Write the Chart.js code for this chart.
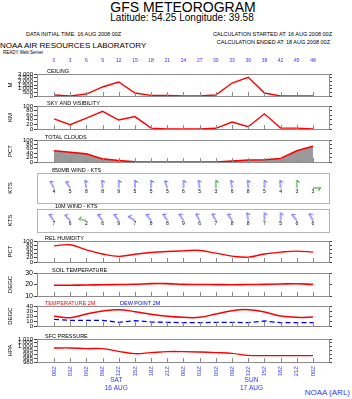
<!DOCTYPE html>
<html>
<head>
<meta charset="utf-8">
<script src="https://cdn.jsdelivr.net/npm/chart.js@4.4.0/dist/chart.umd.min.js"></script>
<style>
  body { margin: 0; background: #fff; width: 352px; height: 399px; overflow: hidden; position: relative;
         font-family: "Liberation Sans", Arial, Helvetica, sans-serif; }
  canvas { position: absolute; left: 0; }
  .t { position: absolute; white-space: nowrap; color: #000; line-height: 1; }
</style>
</head>
<body>
<div class="t" style="left:0;width:366px;text-align:center;top:0;font-size:14px">GFS METEOROGRAM</div>
<div class="t" style="left:0;width:364px;text-align:center;top:13px;font-size:10px">Latitude: 54.25 Longitude: 39.58</div>
<div class="t" style="left:26px;top:32px;font-size:5.5px">DATA INITIAL TIME: 16 AUG 2008 00Z</div>
<div class="t" style="right:20px;top:32px;font-size:5.5px">CALCULATION STARTED AT: 16 AUG 2008 00Z</div>
<div class="t" style="left:0;top:42px;font-size:8px">NOAA AIR RESOURCES LABORATORY</div>
<div class="t" style="right:22px;top:40px;font-size:5.5px">CALCULATION ENDED AT: 18 AUG 2008 00Z</div>
<div class="t" style="left:3px;top:51px;font-size:4.5px">READY Web Server</div>
<div class="t" style="right:2px;top:389px;font-size:8px;color:#3333ff">NOAA (ARL)</div>

<script>
// forecast hours on top, times on the bottom
const hours = ['0', '3', '6', '9', '12', '15', '18', '21', '24', '27', '30', '33', '36', '39', '42', '45', '48'];
const times = ['00Z', '03Z', '06Z', '09Z', '12Z', '15Z', '18Z', '21Z', '00Z', '03Z', '06Z', '09Z', '12Z', '15Z', '18Z', '21Z', '00Z'];
const dayNames = ['SAT', 'SUN'];
const dayDates = ['16 AUG', '17 AUG'];
const dayAt = [3.85, 12.2];

// series
const ceiling = [140, 0, 270, 1230, 1910, 410, 90, 90, 0, 0, 140, 1770, 2550, 410, 0, 0, 0];
const sky = [44, 19, 47, 77, 39, 54, 4, 0, 0, 0, 3, 30, 10, 66, 4, 4, 0];
const clouds = [51, 44, 37, 14, 7, 1, 0, 0, 0, 0, 0, 4, 9, 10, 16, 51, 72];
const wind850Dir = [-30, -35, -10, -5, 0, 0, 0, -20, 0, -10, 0, -10, -5, 0, -5, 0, 90];
const wind850Spd = [4, 5, 8, 8, 9, 5, 5, 5, 6, 5, 3, 6, 8, 5, 4, 3, 3];
const wind10Dir = [-40, -45, -80, -40, -40, -60, -40, -35, -35, -30, -30, -35, -10, 0, 0, -40, -30];
const wind10Spd = [7, 6, 2, 6, 9, 7, 8, 8, 9, 6, 7, 8, 8, 7, 5, 6, 6];
const rh = [77, 82, 58, 38, 27, 37, 45, 50, 53, 55, 42, 28, 23, 38, 47, 52, 47];
const soilT = [19.4, 19.4, 19.5, 19.8, 20.0, 20.2, 20.8, 20.8, 20.1, 20.0, 19.9, 19.8, 20.0, 20.1, 20.4, 20.6, 20.1];
const temp2m = [19.3, 16.7, 24, 30, 32.7, 28.7, 23.3, 19.3, 17.3, 17.3, 24, 30.7, 32.7, 28, 20, 17.3, 18];
const dew2m = [13.3, 11.3, 11.3, 11.3, 7.3, 10.7, 8, 7.3, 6.7, 6.7, 7.3, 7.3, 6.7, 10, 6.7, 6.7, 6.7];
const pres = [998.3, 998.3, 997.4, 997.4, 993.9, 990.9, 992.2, 993.5, 993.5, 993.0, 992.2, 991.3, 988.7, 988.3, 988.3, 988.3, 988.3];

const FONT = '"Liberation Sans", Arial, Helvetica, sans-serif';
const BLUE = '#3333ff';
Chart.defaults.font.family = FONT;
Chart.defaults.animation = false;
Chart.defaults.events = [];
Chart.defaults.plugins.legend.display = false;
Chart.defaults.plugins.tooltip.enabled = false;

const XMIN = -1.05, XMAX = 16.99;
const pts = arr => arr.map((v, i) => ({ x: i, y: v }));

// little wind barb drawn once per colour
const barbCache = {};
function barb(color) {
  if (barbCache[color]) return barbCache[color];
  const c = document.createElement('canvas');
  c.width = 18; c.height = 18;
  const g = c.getContext('2d');
  g.strokeStyle = color;
  g.lineWidth = 1;
  g.beginPath();
  g.moveTo(9, 9); g.lineTo(9, 1);
  g.moveTo(9, 1.5); g.lineTo(12, 3.5);
  g.stroke();
  barbCache[color] = c;
  return c;
}

function decor(o) {
  return {
    id: 'decor',
    afterDatasetsDraw(chart) {
      const { ctx, chartArea: a, scales } = chart;
      ctx.save();
      // box
      ctx.strokeStyle = o.boxColor || '#8c8c8c';
      ctx.lineWidth = 1;
      ctx.strokeRect(Math.round(a.left) + 0.5, Math.round(a.top) + 0.5,
        Math.round(a.right - a.left), Math.round(a.bottom - a.top));
      // small ticks at every time step
      if (o.xTicks !== false) {
        ctx.strokeStyle = '#8c8c8c';
        hours.forEach((h, i) => {
          const x = Math.round(scales.x.getPixelForValue(i)) + 0.5;
          ctx.beginPath();
          ctx.moveTo(x, a.bottom);
          ctx.lineTo(x, a.bottom - 4);
          ctx.stroke();
        });
      }
      // panel titles
      ctx.font = '5.5px ' + FONT;
      ctx.textAlign = 'left';
      ctx.textBaseline = 'alphabetic';
      (o.titles || []).forEach(t => {
        ctx.fillStyle = t.color || '#000';
        ctx.fillText(t.text, t.x, a.top - 1.5);
      });
      // wind speeds under the barbs
      if (o.speeds) {
        const meta = chart.getDatasetMeta(0);
        ctx.font = '5px ' + FONT;
        ctx.textAlign = 'center';
        ctx.textBaseline = 'middle';
        ctx.fillStyle = '#000';
        meta.data.forEach((p, i) => ctx.fillText(String(o.speeds[i]), p.x, p.y + 3.5));
      }
      // day labels under the bottom axis
      if (o.days) {
        ctx.font = '6.5px ' + FONT;
        ctx.textAlign = 'center';
        ctx.textBaseline = 'middle';
        ctx.fillStyle = BLUE;
        dayAt.forEach((d, i) => {
          const x = scales.x.getPixelForValue(d);
          ctx.fillText(dayNames[i], x, a.bottom + 18);
          ctx.fillText(dayDates[i], x, a.bottom + 26);
        });
      }
      // rotated axis title
      if (o.axisTitle) {
        ctx.translate(10, (a.top + a.bottom) / 2);
        ctx.rotate(-Math.PI / 2);
        ctx.font = '6px ' + FONT;
        ctx.textAlign = 'center';
        ctx.textBaseline = 'middle';
        ctx.fillStyle = '#000';
        ctx.fillText(o.axisTitle, 0, 0);
      }
      ctx.restore();
    }
  };
}

function panel(o) {
  const padTop = o.topAxis ? 0 : 6;
  const padBottom = o.bottomAxis ? 0 : 6;
  const extraTop = o.topAxis ? 18 : 0;
  const extraBottom = o.bottomAxis ? 37 : 0;
  const cv = document.createElement('canvas');
  cv.width = 352;
  cv.height = (o.bottom - o.top) + padTop + padBottom + extraTop + extraBottom;
  cv.style.top = (o.top - padTop - extraTop) + 'px';
  document.body.appendChild(cv);

  const tickOpts = o.y ? { stepSize: o.y.step, font: { size: o.y.font || 6 }, color: '#000', padding: 1, autoSkip: false }
                       : { display: false };
  const scales = {
    x: { type: 'linear', min: XMIN, max: XMAX, display: false },
    y: {
      position: 'left', min: o.y ? o.y.min : -1, max: o.y ? o.y.max : 1,
      ticks: tickOpts,
      grid: { display: !!o.y, drawOnChartArea: false, tickLength: 3, color: '#444' },
      border: { display: false },
      afterFit: s => { s.width = 37; }
    },
    yr: {
      position: 'right', min: o.y ? o.y.min : -1, max: o.y ? o.y.max : 1,
      ticks: o.y ? { display: false, stepSize: o.y.step } : { display: false },
      grid: { display: !!o.y, drawOnChartArea: false, tickLength: 3, color: '#444' },
      border: { display: false },
      afterFit: s => { s.width = 23; }
    }
  };
  if (o.topAxis) {
    scales.xt = {
      type: 'linear', position: 'top', min: XMIN, max: XMAX,
      afterBuildTicks: s => { s.ticks = hours.map((h, i) => ({ value: i })); },
      ticks: { callback: v => hours[v], font: { size: 5 }, color: BLUE, padding: 10, maxRotation: 0, autoSkip: false },
      grid: { display: false, drawTicks: false },
      border: { display: false },
      afterFit: s => { s.height = 18; }
    };
  }
  if (o.bottomAxis) {
    scales.x = {
      type: 'linear', position: 'bottom', min: XMIN, max: XMAX,
      afterBuildTicks: s => { s.ticks = times.map((t, i) => ({ value: i })); },
      ticks: { callback: v => times[v], font: { size: 6 }, color: BLUE, padding: 4,
               minRotation: 90, maxRotation: 90, autoSkip: false },
      grid: { display: false, drawTicks: false },
      border: { display: false },
      afterFit: s => { s.height = 37; }
    };
  }
  new Chart(cv, {
    type: 'line',
    data: { datasets: o.datasets },
    options: {
      responsive: false,
      maintainAspectRatio: false,
      layout: { padding: { top: padTop, bottom: padBottom, left: 0, right: 0 } },
      scales
    },
    plugins: [decor(o)]
  });
}

const redLine = (arr, extra) => Object.assign({
  data: pts(arr), borderColor: '#ff0000', borderWidth: 1.4, pointRadius: 0, fill: false, tension: 0
}, extra || {});

const barbSet = (dirs, spds) => ({
  data: spds.map((s, i) => ({ x: i, y: 0 })),
  showLine: false,
  pointRadius: 4,
  pointStyle: c => barb(spds[c.dataIndex] < 4 ? '#229922' : '#4f4fff'),
  rotation: c => dirs[c.dataIndex]
});

panel({ top: 74, bottom: 96, topAxis: true, axisTitle: 'M',
  y: { min: 0, max: 3000, step: 500 },
  titles: [{ text: 'CEILING', x: 47 }],
  datasets: [redLine(ceiling)] });

panel({ top: 106, bottom: 129, axisTitle: 'KM',
  y: { min: 0, max: 100, step: 20 },
  titles: [{ text: 'SKY AND VISIBILITY', x: 47 }],
  datasets: [redLine(sky)] });

panel({ top: 140, bottom: 162, axisTitle: 'PCT',
  y: { min: 0, max: 100, step: 20 },
  titles: [{ text: 'TOTAL CLOUDS', x: 45 }],
  datasets: [redLine(clouds, { fill: 'origin', backgroundColor: '#9a9a9a', borderWidth: 1.6 })] });

panel({ top: 173, bottom: 203, axisTitle: 'KTS', boxColor: '#b4b4b4', xTicks: false,
  speeds: wind850Spd,
  titles: [{ text: '850MB WIND - KTS', x: 52 }],
  datasets: [barbSet(wind850Dir, wind850Spd)] });

panel({ top: 209, bottom: 232, axisTitle: 'KTS', boxColor: '#b4b4b4', xTicks: false,
  speeds: wind10Spd,
  titles: [{ text: '10M WIND - KTS', x: 55 }],
  datasets: [barbSet(wind10Dir, wind10Spd)] });

panel({ top: 241, bottom: 262, axisTitle: 'PCT',
  y: { min: 0, max: 100, step: 20 },
  titles: [{ text: 'REL HUMIDITY', x: 45 }],
  datasets: [redLine(rh, { tension: 0.4 })] });

panel({ top: 273, bottom: 296, axisTitle: 'DEGC',
  y: { min: 10, max: 30, step: 10, font: 7 },
  titles: [{ text: 'SOIL TEMPERATURE', x: 52 }],
  datasets: [redLine(soilT, { tension: 0.4, borderWidth: 1.6 })] });

panel({ top: 306, bottom: 326, axisTitle: 'DEGC',
  y: { min: 0, max: 40, step: 10 },
  titles: [{ text: 'TEMPERATURE 2M', x: 45, color: '#ff0000' }, { text: 'DEW POINT 2M', x: 120, color: '#0000ff' }],
  datasets: [
    redLine(temp2m, { tension: 0.4, borderWidth: 1.5 }),
    redLine(dew2m, { borderColor: '#0000ff', borderDash: [5, 3], borderWidth: 1.3 })
  ] });

panel({ top: 339, bottom: 362, bottomAxis: true, axisTitle: 'HPA', days: true,
  y: { min: 980, max: 1010, step: 5 },
  titles: [{ text: 'SFC PRESSURE', x: 45 }],
  datasets: [redLine(pres, { tension: 0.4 })] });
</script>
</body>
</html>
